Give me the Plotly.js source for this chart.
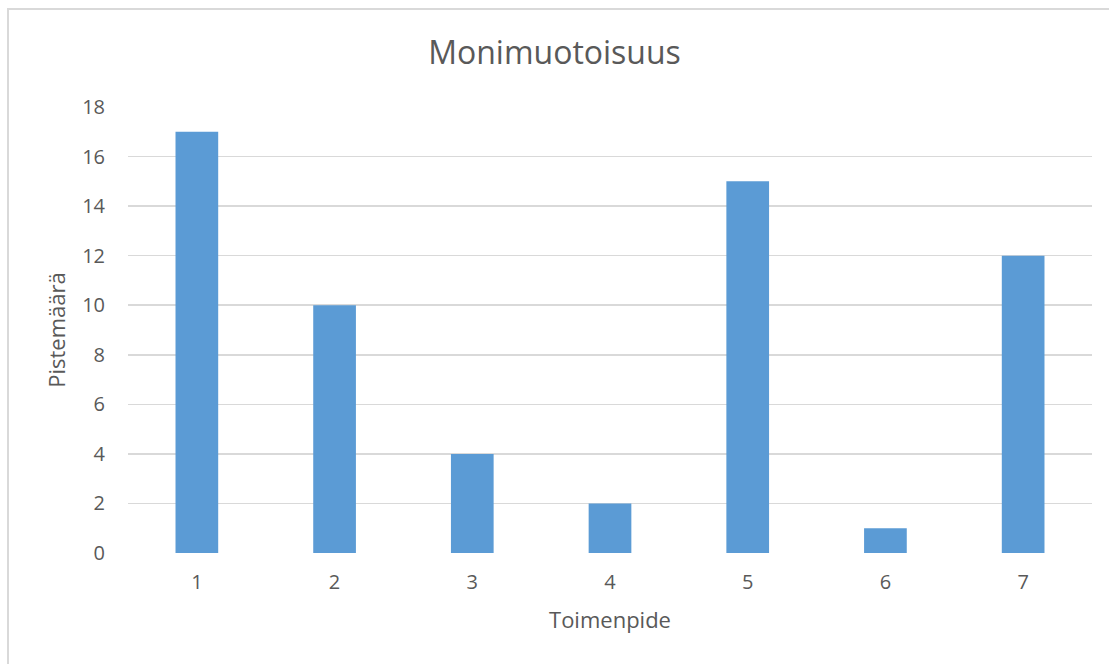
<!DOCTYPE html>
<html>
<head>
<meta charset="utf-8">
<script src="https://cdn.plot.ly/plotly-3.0.1.min.js"></script>
<style>
  body { margin: 0; background: #fff; overflow: hidden; }
  #frame { position: absolute; left: 7px; top: 8px; width: 1200px; height: 800px;
           border-left: 2px solid #d9d9d9; border-top: 2px solid #d9d9d9; }
  #chart { position: absolute; left: 0; top: 0; width: 1109px; height: 664px; }
</style>
</head>
<body>
<div id="frame"></div>
<div id="chart"></div>
<script>
// Monimuotoisuus - pistemäärät toimenpiteittäin
var toimenpiteet = ["1", "2", "3", "4", "5", "6", "7"];
var pisteet = [17, 10, 4, 2, 15, 1, 12];
var yTicks = [0, 2, 4, 6, 8, 10, 12, 14, 16, 18];

var trace = {
    x: toimenpiteet,
    y: pisteet,
    type: "bar",
    marker: {color: "#5b9bd5"},
    hoverinfo: "x+y"
};

var layout = {
    width: 1109,
    height: 664,
    margin: {l: 128, r: 17, t: 107, b: 111},
    paper_bgcolor: "rgba(0,0,0,0)",
    plot_bgcolor: "rgba(0,0,0,0)",
    font: {family: "'Open Sans', sans-serif", color: "#595959", size: 20},
    title: {text: "Monimuotoisuus", font: {size: 32, color: "#595959"}, x: 0.5, xanchor: "center", y: 0.92, yanchor: "middle"},
    bargap: 0.69,
    showlegend: false,
    xaxis: {
        type: "category",
        title: {text: "Toimenpide", font: {size: 22}, standoff: 18},
        showgrid: false,
        zeroline: false,
        showline: false,
        ticks: "outside",
        ticklen: 11,
        tickcolor: "rgba(0,0,0,0)"
    },
    yaxis: {
        title: {text: "Pistemäärä", font: {size: 22}, standoff: 10},
        range: [0, 18],
        tickvals: yTicks,
        showgrid: true,
        gridcolor: "#d9d9d9",
        gridwidth: 1.5,
        zeroline: false,
        showline: false,
        ticks: "outside",
        ticklen: 18,
        tickcolor: "rgba(0,0,0,0)"
    }
};

Plotly.newPlot("chart", [trace], layout, {displayModeBar: false, staticPlot: true});
</script>
</body>
</html>
